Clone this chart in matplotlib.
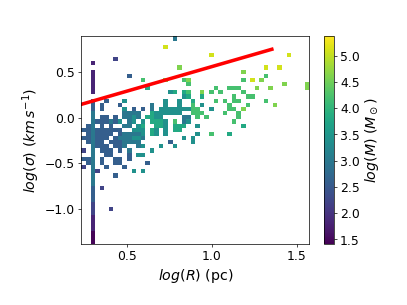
import numpy as np
import matplotlib
matplotlib.use('Agg')
import matplotlib.pyplot as plt

# binned grid (50 x 50)
x_edges = np.linspace(0.231, 1.574, 51)
y_edges = np.linspace(-1.389, 0.893, 51)

# one character per cell, top row first, '.' = empty
cell_map = [
    "....................4",
    "",
    "..................9",
    "",
    "............................9................9",
    ".......2",
    "..1",
    ".....................8..................9..9",
    "..1................................8",
    "..1.......3.............................7",
    "..1..........7....8...78...........7.9.8",
    "..1....................7....................8....8",
    "..1...........6..............7..777...8..8.......8",
    "..1................56.67..8.7.7....7",
    "......................56..6......7..77",
    "..3..3...5........5..5..6....7.7.77.....7",
    "..3.3...3......4..5..5..7.5.....7...7.....8",
    "..3.3....5.3.3.4.555555577..5...77.8",
    "..4......4444..6555555..777....7..7",
    "..4.33.3.4454.6655....44.7.7......7",
    "..4333435.45.5.6665.7.45.........7",
    ".34.3.3..44.56..665.666..5.........6",
    "334333333..555.65.5.66",
    ".343333.344445.65.5......5..7...6",
    "334333.3444554........5.5",
    ".3433.3334444......3....5",
    "..4333.334..45...5..5",
    "2.4.333.3.4....5",
    "..4..33...3.55",
    "334.3..33.3",
    ".34.3..33.....3",
    "2.4..3...3",
    "..42.......5.5",
    "..4....3",
    "..4",
    "..4",
    "..3.2",
    "..3",
    "..3",
    "..3",
    "..2",
    "..2...2",
    "..2",
    "..1",
    "..1",
    "..1",
    "..1",
    "..0",
    "..0",
    "..0",
]

# log(M) value for each character
level_values = {'0': 1.45, '1': 1.8, '2': 2.2, '3': 2.6, '4': 3.0, '5': 3.4,
                '6': 3.8, '7': 4.2, '8': 4.6, '9': 5.1, 'A': 5.35}

vmin, vmax = 1.41, 5.37

# reference line
line_x = [0.231, 1.353]
line_y = [0.146, 0.751]

grid = np.full((50, 50), np.nan)
for r, row in enumerate(cell_map):
    for c, ch in enumerate(row[:50]):
        if ch in level_values:
            grid[49 - r, c] = level_values[ch]

fig, ax = plt.subplots(figsize=(6.4, 4.8))
plt.subplots_adjust(left=0.2, bottom=0.2)

mesh = ax.pcolormesh(x_edges, y_edges, np.ma.masked_invalid(grid),
                     cmap='viridis', vmin=vmin, vmax=vmax)
ax.plot(line_x, line_y, color='red', lw=4)
ax.set_xlim(x_edges[0], x_edges[-1])
ax.set_ylim(y_edges[0], y_edges[-1])
ax.set_xticks([0.5, 1.0, 1.5])
ax.set_yticks([-1.0, -0.5, 0.0, 0.5])
ax.tick_params(labelsize=14)
ax.set_xlabel(r'$log(R)$ (pc)', fontsize=16)
ax.set_ylabel(r'$log(\sigma)\ (km\,s^{-1})$', fontsize=16)

cb = fig.colorbar(mesh, ax=ax)
cb.ax.tick_params(labelsize=14)
cb.set_label(r'$log(M)\ (M_\odot)$', fontsize=16)

fig.savefig('out.png', dpi=63.6)
